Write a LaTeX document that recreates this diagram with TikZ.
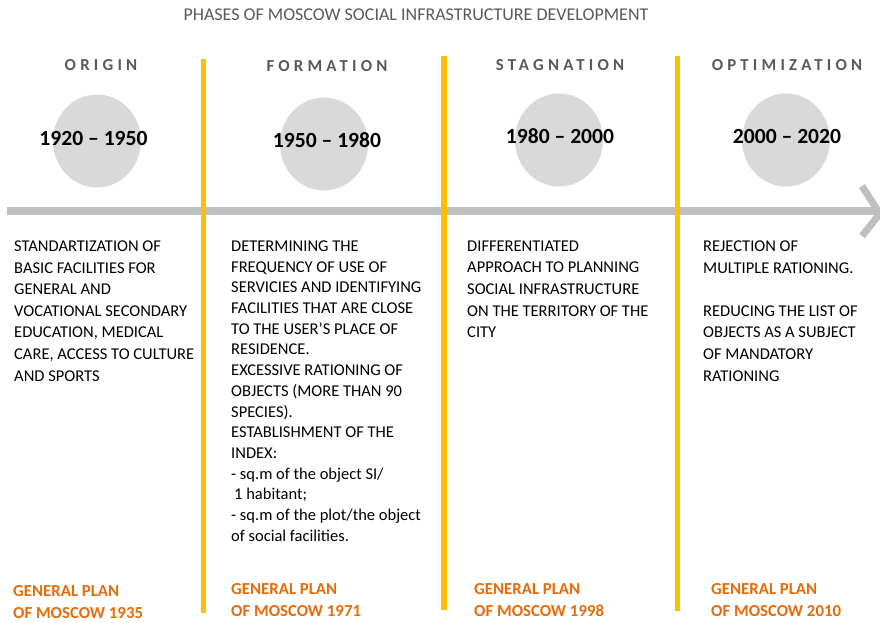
\documentclass[tikz,border=0pt]{standalone}
\usepackage{fontspec}
\setmainfont{Carlito}
\usetikzlibrary{shapes.geometric}
\definecolor{headgray}{HTML}{595959}
\definecolor{discgray}{HTML}{D9D9D9}
\definecolor{axisgray}{HTML}{BFBFBF}
\definecolor{sepyellow}{HTML}{FFC000}
\definecolor{planorange}{HTML}{E46C0A}

\begin{document}
\begin{tikzpicture}
[x=1pt, y=-1pt,
 phase/.style={anchor=base, inner sep=0, text=headgray, font=\bfseries\fontsize{16.8}{19}\selectfont\addfontfeatures{LetterSpace=25}},
 disc/.style={ellipse, fill=discgray, minimum width=88pt, minimum height=93pt, inner sep=0},
 years/.style={anchor=base, inner sep=0, font=\bfseries\fontsize{21.6}{25}\selectfont},
 body/.style={anchor=north west, inner sep=0, align=left, font=\fontsize{16.5}{21.6}\selectfont},
 plan/.style={anchor=base west, inner sep=0, align=left, text=planorange, font=\bfseries\fontsize{16.8}{22}\selectfont},
 sep/.style={sepyellow, line width=5.5pt},
]
\useasboundingbox (0,0) rectangle (880,623);

%TITLE
\node[anchor=base, inner sep=0, text=headgray, font=\fontsize{18}{22}\selectfont] (title) at (416,21) {PHASES OF MOSCOW SOCIAL INFRASTRUCTURE DEVELOPMENT};

%DISCS
\node[disc] (disc1) at (97,141) {};
\node[disc] (disc2) at (324,144) {};
\node[disc] (disc3) at (559,140) {};
\node[disc] (disc4) at (786,140) {};

%TIMELINE
\coordinate (axis-start) at (7,211);
\coordinate (axis-end) at (878,211);
\coordinate (head-top) at (862,186);
\coordinate (head-bot) at (862,236);
\draw[axisgray, line width=8pt] (axis-start) -- (axis-end);
\draw[axisgray, line width=7pt, miter limit=10] (head-top) -- (axis-end) ++(4,0) -- (head-bot);

%SEPARATORS
\coordinate (sep1-top) at (203.5,59);  \coordinate (sep1-bot) at (203.5,613);
\coordinate (sep2-top) at (444,56);    \coordinate (sep2-bot) at (444,610);
\coordinate (sep3-top) at (677.5,56);  \coordinate (sep3-bot) at (677.5,611);
\draw[sep] (sep1-top) -- (sep1-bot);
\draw[sep] (sep2-top) -- (sep2-bot);
\draw[sep] (sep3-top) -- (sep3-bot);

%PHASES
\node[phase] (origin) at (101,71) {ORIGIN};
\node[phase] (formation) at (327,72) {FORMATION};
\node[phase] (stagnation) at (560,71) {STAGNATION};
\node[phase] (optimization) at (787,71) {OPTIMIZATION};

%YEARS
\node[years] (years1) at (93.5,145) {1920 – 1950};
\node[years] (years2) at (327,147) {1950 – 1980};
\node[years] (years3) at (560,143) {1980 – 2000};
\node[years] (years4) at (787,143) {2000 – 2020};

%ORIGIN
\node[body] (text1) at (14,240.5) {STANDARTIZATION OF\\BASIC FACILITIES FOR\\GENERAL AND\\VOCATIONAL SECONDARY\\EDUCATION, MEDICAL\\CARE, ACCESS TO CULTURE\\AND SPORTS};

%FORMATION
\node[body, font=\fontsize{16.5}{20.7}\selectfont] (text2) at (231,240.5) {DETERMINING THE\\FREQUENCY OF USE OF\\SERVICIES AND IDENTIFYING\\FACILITIES THAT ARE CLOSE\\TO THE USER’S PLACE OF\\RESIDENCE.\\EXCESSIVE RATIONING OF\\OBJECTS (MORE THAN 90\\SPECIES).\\ESTABLISHMENT OF THE\\INDEX:\\- sq.m of the object SI/\\\hspace*{3pt}1 habitant;\\- sq.m of the plot/the object\\of social facilities.};

%STAGNATION
\node[body] (text3) at (467,240.5) {DIFFERENTIATED\\APPROACH TO PLANNING\\SOCIAL INFRASTRUCTURE\\ON THE TERRITORY OF THE\\CITY};

%OPTIMIZATION
\node[body] (text4) at (703,240.5) {REJECTION OF\\MULTIPLE RATIONING.\\[21.6pt]REDUCING THE LIST OF\\OBJECTS AS A SUBJECT\\OF MANDATORY\\RATIONING};

%GENERAL PLANS
\node[plan] (plan1) at (13,618) {GENERAL PLAN\\OF MOSCOW 1935};
\node[plan] (plan2) at (231,616) {GENERAL PLAN\\OF MOSCOW 1971};
\node[plan] (plan3) at (474,616) {GENERAL PLAN\\OF MOSCOW 1998};
\node[plan] (plan4) at (711,616) {GENERAL PLAN\\OF MOSCOW 2010};

\end{tikzpicture}
\end{document}
